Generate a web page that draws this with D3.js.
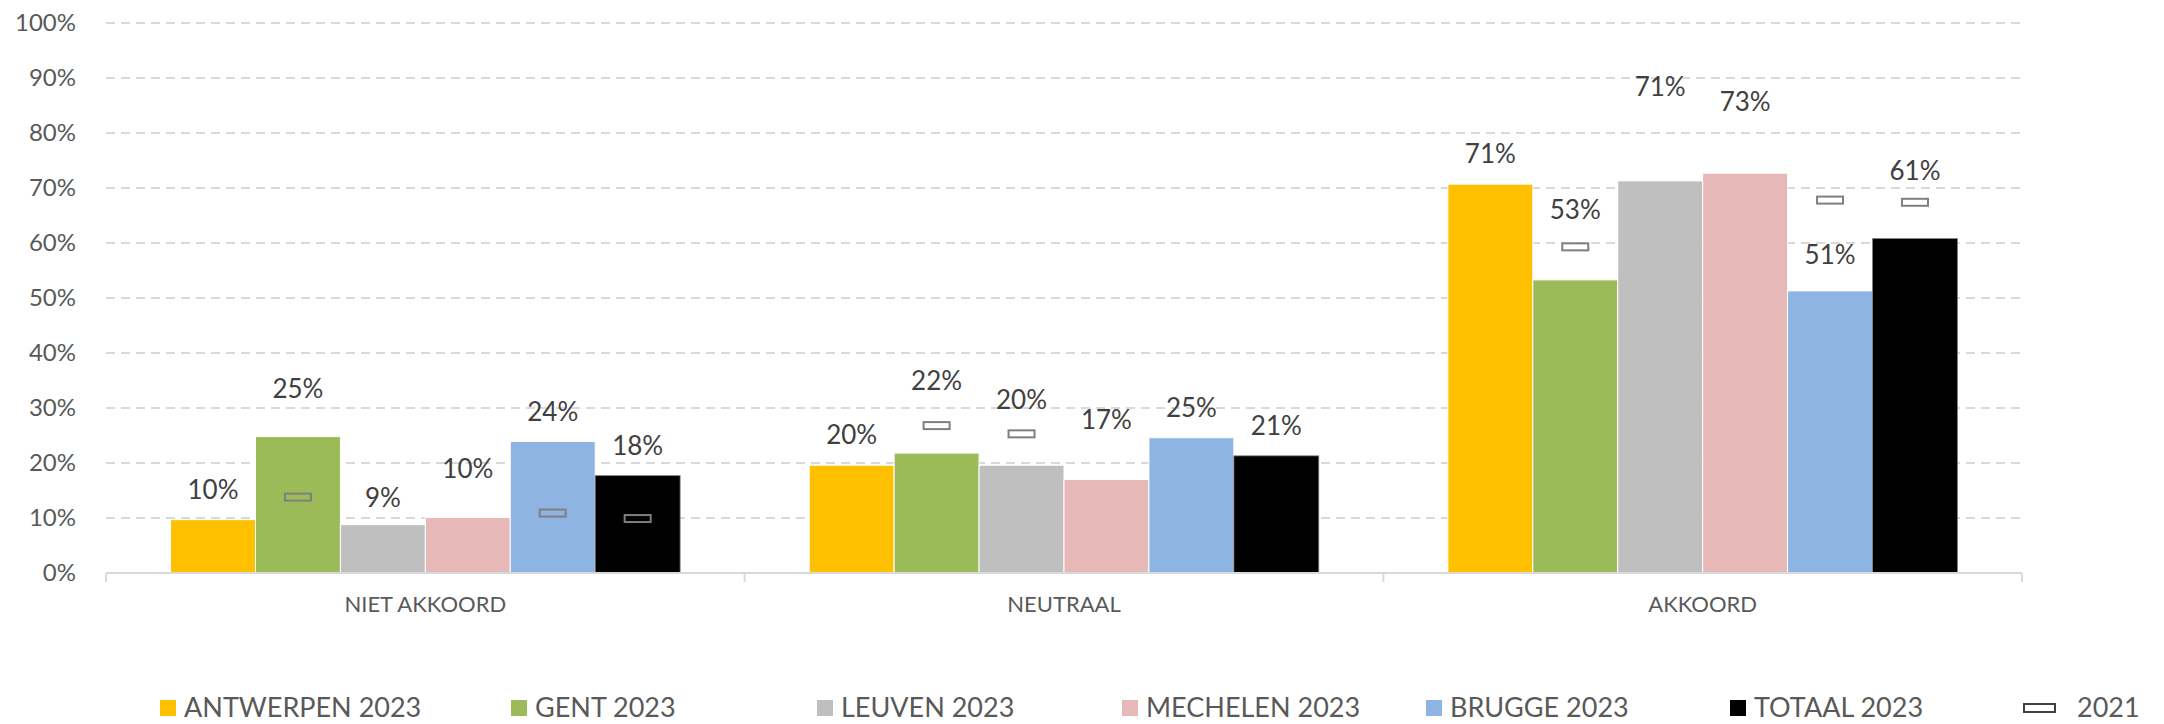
<!DOCTYPE html>
<html>
<head>
<meta charset="utf-8">
<script src="https://cdn.jsdelivr.net/npm/d3@7"></script>
<style>
  body { margin: 0; background: #fff; }
  text { font-family: Lato, "Open Sans", sans-serif; }
</style>
</head>
<body>
<script>
// categories en reeksen
const categories = ["NIET AKKOORD", "NEUTRAAL", "AKKOORD"];
const seriesNames = ["ANTWERPEN 2023", "GENT 2023", "LEUVEN 2023", "MECHELEN 2023", "BRUGGE 2023", "TOTAAL 2023"];

// 2023 waarden (%), per categorie
const antwerpen2023 = [9.7, 19.6, 70.7];
const gent2023 = [24.8, 21.8, 53.3];
const leuven2023 = [8.8, 19.6, 71.3];
const mechelen2023 = [10.1, 17.0, 72.7];
const brugge2023 = [23.9, 24.6, 51.3];
const totaal2023 = [17.7, 21.3, 60.8];

// 2021 waarden (alleen waar zichtbaar)
const antwerpen2021 = [null, null, null];
const gent2021 = [13.8, 26.8, 59.3];
const leuven2021 = [null, 25.3, null];
const mechelen2021 = [null, null, null];
const brugge2021 = [10.9, null, 67.8];
const totaal2021 = [9.9, null, 67.4];

const yTicks = [0, 10, 20, 30, 40, 50, 60, 70, 80, 90, 100];

const colors = ["#FFC000", "#9BBB59", "#BFBFBF", "#E6B8B7", "#8DB4E2", "#000000"];

// extra hoogte van de datalabels (handmatig verschoven zoals in het origineel)
const labelLift = [
  [0, 0, 0],
  [18, 42, 40],
  [-3, 35, 64],
  [18, 30, 41],
  [0, 0, 6],
  [0, 0, 38]
];

const values2023 = [antwerpen2023, gent2023, leuven2023, mechelen2023, brugge2023, totaal2023];
const values2021 = [antwerpen2021, gent2021, leuven2021, mechelen2021, brugge2021, totaal2021];

const W = 2164, H = 724;
const margin = { top: 23, right: 142, bottom: 151, left: 106 };
const width = W - margin.left - margin.right,
      height = H - margin.top - margin.bottom;

const svg = d3.select("body").append("svg")
    .attr("width", W)
    .attr("height", H);

const g = svg.append("g")
    .attr("transform", `translate(${margin.left},${margin.top})`);

const x0 = d3.scaleBand()
    .domain(categories)
    .range([0, width])
    .padding(0);

const x1 = d3.scaleBand()
    .domain(seriesNames)
    .range([0, x0.bandwidth()])
    .paddingInner(0)
    .paddingOuter(0.76);

const y = d3.scaleLinear()
    .domain([0, 100])
    .range([height, 0]);

// rasterlijnen
g.append("g")
    .selectAll("line")
    .data(yTicks.filter(d => d > 0))
    .join("line")
    .attr("x1", 0)
    .attr("x2", width)
    .attr("y1", d => y(d))
    .attr("y2", d => y(d))
    .attr("stroke", "#d9d9d9")
    .attr("stroke-width", 2)
    .attr("stroke-dasharray", "9,6");

// y-as labels
const yAxis = g.append("g")
    .attr("transform", "translate(-27,0)")
    .call(d3.axisLeft(y).tickValues(yTicks).tickFormat(d => d + "%").tickSize(0));
yAxis.select(".domain").remove();
yAxis.selectAll("text")
    .attr("font-size", 24)
    .attr("fill", "#595959")
    .attr("font-family", "Lato, 'Open Sans', sans-serif");

// staven
const groups = g.append("g")
    .selectAll("g")
    .data(categories)
    .join("g")
    .attr("transform", d => `translate(${x0(d)},0)`);

const barData = (c, ci) => seriesNames.map((s, si) => ({
  s, si, ci, v: values2023[si][ci], prev: values2021[si][ci]
}));

groups.selectAll("rect")
    .data(barData)
    .join("rect")
    .attr("x", d => x1(d.s))
    .attr("y", d => y(d.v))
    .attr("width", x1.bandwidth())
    .attr("height", d => height - y(d.v))
    .attr("fill", d => colors[d.si])
    .attr("stroke", d => d.si === 5 ? "#7f7f7f" : "#fff")
    .attr("stroke-width", d => d.si === 5 ? 0.8 : 1);

// x-as
const xAxis = g.append("g").attr("transform", `translate(0,${height})`);
xAxis.append("line")
    .attr("x1", 0).attr("x2", width)
    .attr("stroke", "#d9d9d9").attr("stroke-width", 2);
xAxis.selectAll(".tick")
    .data([0, ...categories.map(c => x0(c) + x0.bandwidth())])
    .join("line")
    .attr("x1", d => d).attr("x2", d => d)
    .attr("y1", 0).attr("y2", 9)
    .attr("stroke", "#d9d9d9").attr("stroke-width", 2);
xAxis.selectAll("text")
    .data(categories)
    .join("text")
    .attr("x", d => x0(d) + x0.bandwidth() / 2)
    .attr("y", 39)
    .attr("text-anchor", "middle")
    .attr("font-size", 22)
    .attr("fill", "#595959")
    .text(d => d);

// 2021 markers
groups.selectAll("rect.prev")
    .data((c, ci) => barData(c, ci).filter(d => d.prev != null))
    .join("rect")
    .attr("class", "prev")
    .attr("x", d => x1(d.s) + x1.bandwidth() / 2 - 13)
    .attr("y", d => y(d.prev) - 3.5)
    .attr("width", 26)
    .attr("height", 7)
    .attr("fill", "none")
    .attr("stroke", "#7f7f7f")
    .attr("stroke-width", 2);

// datalabels
groups.selectAll("text.lbl")
    .data(barData)
    .join("text")
    .attr("class", "lbl")
    .attr("x", d => x1(d.s) + x1.bandwidth() / 2)
    .attr("y", d => y(d.v) - 30 - labelLift[d.si][d.ci] + 9)
    .attr("text-anchor", "middle")
    .attr("font-size", 26)
    .attr("fill", "#404040")
    .text(d => Math.round(d.v) + "%");

// legenda
const legendX = [160, 511, 817, 1122, 1426, 1730];
const legend = svg.append("g");
legend.selectAll("rect")
    .data(seriesNames)
    .join("rect")
    .attr("x", (d, i) => legendX[i])
    .attr("y", 700)
    .attr("width", 16)
    .attr("height", 16)
    .attr("fill", (d, i) => colors[i]);
legend.selectAll("text")
    .data(seriesNames)
    .join("text")
    .attr("x", (d, i) => legendX[i] + 24)
    .attr("y", 717)
    .attr("font-size", 27)
    .attr("fill", "#595959")
    .text(d => d);
legend.append("rect")
    .attr("x", 2024)
    .attr("y", 704)
    .attr("width", 31)
    .attr("height", 8)
    .attr("fill", "#fff")
    .attr("stroke", "#404040")
    .attr("stroke-width", 2);
legend.append("text")
    .attr("x", 2077)
    .attr("y", 717)
    .attr("font-size", 27)
    .attr("fill", "#595959")
    .text("2021");
</script>
</body>
</html>
